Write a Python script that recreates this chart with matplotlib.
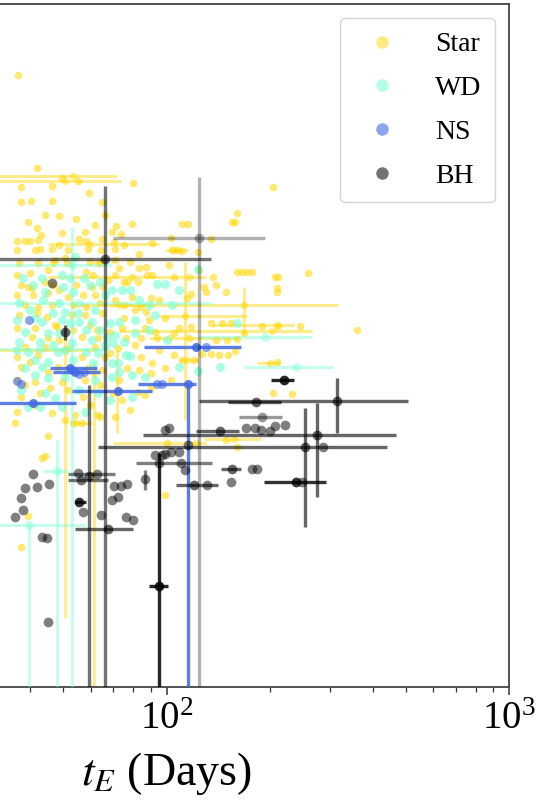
import numpy as np
import matplotlib
matplotlib.use("Agg")
import matplotlib.pyplot as plt
from matplotlib.lines import Line2D
from matplotlib.ticker import NullFormatter

plt.rcParams['font.family'] = ['Liberation Serif', 'DejaVu Serif']
plt.rcParams['mathtext.fontset'] = 'stix'

# ---------------- Stars ----------------
star_tE = [36.9, 41.8, 49.4, 55.0, 37.7, 46.2, 79.6, 37.5, 40.1, 46.2, 59.2, 64.6, 204.0,
           48.4, 54.6, 79.1, 111.3, 115.2, 155.8, 158.9, 161.1, 41.8, 43.0, 49.4, 57.7, 69.1,
           71.0, 73.4, 36.7, 38.5, 39.9, 42.1, 55.4, 58.1, 64.6, 70.1, 103.4, 135.3, 36.7,
           41.2, 42.7, 46.2, 51.4, 58.8, 64.2, 70.5, 82.9, 104.1, 107.7, 111.3, 124.0, 91.0,
           42.1, 47.1, 50.4, 59.6, 62.9, 70.5, 102.0, 36.7, 39.9, 45.1, 58.4, 60.9, 70.5,
           79.1, 88.0, 91.0, 105.5, 137.1, 161.1, 166.6, 172.3, 178.2, 206.8, 211.0, 259.1,
           39.3, 76.9, 82.3, 129.0, 139.9, 209.6, 209.6, 90.4, 114.4, 118.3, 130.8, 148.7,
           37.7, 40.4, 46.5, 54.6, 65.1, 75.4, 36.7, 40.7, 45.1, 51.4, 56.9, 61.7, 79.1,
           38.5, 42.1, 46.2, 53.2, 58.4, 75.4, 84.5, 37.2, 41.8, 44.8, 52.8, 57.7, 64.6,
           87.4, 98.7, 135.3, 145.7, 154.7, 190.6, 211.0, 245.6, 36.7, 41.2, 47.8, 53.2,
           62.5, 73.9, 86.3, 92.3, 105.5, 118.3, 109.1, 168.9, 40.4, 45.1, 56.5, 62.9, 76.4,
           84.5, 93.5, 116.7, 139.9, 149.7, 161.1, 360.1, 38.5, 44.2, 51.4, 61.7, 72.0,
           127.3, 135.3, 142.8, 150.7, 158.9, 36.7, 42.1, 56.5, 66.0, 84.5, 111.3, 120.7,
           91.0, 209.6, 37.7, 45.1, 64.6, 76.9, 90.4, 103.4, 36.7, 41.2, 49.4, 57.7, 204.0,
           232.2, 37.7, 42.7, 51.4, 56.9, 69.6, 73.9, 82.3, 90.4, 36.7, 46.2, 53.9, 62.9,
           70.5, 36.0, 45.1, 43.3, 44.2, 39.3, 56.5, 63.8, 148.7, 161.1, 100.0, 98.7, 37.7,
           87.4, 124.8, 37.2, 46.5, 51.1, 63.8, 53.2,
           39.3, 44.2, 61.7, 66.0, 75.4, 48.7, 78.0, 72.9, 83.4, 67.3, 60.5, 44.2, 48.7,
           70.5, 63.8, 80.7, 95.4, 89.2, 75.4, 47.1, 59.6, 68.2, 48.7, 80.7, 95.4, 105.5,
           68.2, 39.9, 48.1, 58.8, 83.4, 98.7, 38.5, 45.6, 63.8, 72.9, 86.3, 41.2, 59.6,
           78.0, 50.4]
star_y = [6.12, 5.19, 5.09, 5.06, 5.00, 5.01, 5.04, 4.85, 4.86, 4.86, 4.94, 4.85, 5.00,
          4.71, 4.68, 4.63, 4.63, 4.63, 4.65, 4.65, 4.74, 4.59, 4.52, 4.54, 4.55, 4.55,
          4.61, 4.53, 4.46, 4.46, 4.46, 4.47, 4.48, 4.46, 4.48, 4.45, 4.49, 4.48, 4.37,
          4.37, 4.38, 4.38, 4.37, 4.38, 4.37, 4.38, 4.33, 4.37, 4.37, 4.36, 4.35, 4.44,
          4.24, 4.27, 4.29, 4.25, 4.24, 4.27, 4.22, 4.12, 4.14, 4.17, 4.15, 4.12, 4.12,
          4.10, 4.12, 4.12, 4.10, 4.10, 4.15, 4.15, 4.15, 4.15, 4.10, 4.10, 4.14,
          4.00, 4.05, 4.05, 4.00, 4.02, 3.99, 3.95, 3.89, 3.89, 3.93, 3.95, 3.95,
          4.02, 3.99, 4.02, 4.02, 4.00, 4.05, 3.92, 3.92, 3.94, 3.90, 3.92, 3.92, 3.90,
          3.82, 3.80, 3.82, 3.82, 3.80, 3.82, 3.80, 3.72, 3.74, 3.70, 3.72, 3.72, 3.74,
          3.75, 3.69, 3.64, 3.64, 3.64, 3.61, 3.61, 3.61, 3.59, 3.59, 3.60, 3.57,
          3.57, 3.59, 3.59, 3.55, 3.54, 3.60, 3.59, 3.54, 3.50, 3.49, 3.50, 3.49, 3.49,
          3.49, 3.49, 3.49, 3.47, 3.47, 3.48, 3.57, 3.40, 3.40, 3.39, 3.40, 3.39,
          3.33, 3.33, 3.32, 3.32, 3.36, 3.30, 3.32, 3.30, 3.30, 3.30, 3.27, 3.27,
          3.24, 3.25, 3.20, 3.15, 3.17, 3.19, 3.14, 3.07, 3.07, 3.05, 3.05, 3.07, 2.94,
          2.93, 2.90, 2.94, 2.97, 2.90, 2.94, 2.87, 2.95, 2.99, 2.75, 2.74, 2.72, 2.72,
          2.70, 2.64, 2.51, 2.29, 2.31, 1.71, 2.64, 2.70, 2.47, 2.40, 2.44, 1.92, 1.40,
          4.20, 4.17, 4.24, 4.24, 4.24, 4.24, 2.64,
          4.65, 4.72, 4.62, 4.72, 4.42, 4.42, 4.25, 4.19, 4.19, 4.07, 4.00, 4.05, 3.97,
          3.87, 3.84, 3.77, 3.87, 3.67, 3.69, 3.62, 3.62, 3.55, 3.47, 3.42, 3.37, 3.32,
          3.34, 3.25, 3.20, 3.19, 3.17, 3.19, 3.02, 2.99, 3.02, 3.07, 2.92, 2.82, 2.82,
          2.77, 2.67]

# stars with measured uncertainties: value, lower / upper bounds
star_e_tE = [53.5, 50.4, 168.9, 112.9, 50.4, 61.3, 71.5, 122.3, 157.9, 209.6, 202.6,
             199.9, 54.6, 116.7, 105.5, 59.6, 102.0, 114.4, 72.9]
star_e_y = [5.11, 5.06, 3.82, 3.71, 3.37, 3.14, 2.95, 2.44, 2.48, 3.62, 3.56,
            3.24, 2.64, 4.10, 4.37, 4.43, 3.49, 3.27, 3.82]
star_e_tE_lo = [20.0, 20.0, 68.2, 95.4, 20.0, 61.3, 71.5, 69.6, 129.0, 136.2, 72.9,
                184.3, 52.1, 45.1, 98.7, 45.1, 89.2, 109.1, 52.8]
star_e_tE_hi = [71.5, 73.4, 317.2, 172.3, 61.7, 61.3, 71.5, 130.8, 189.3, 235.0, 266.3,
                213.9, 60.5, 130.8, 115.2, 95.4, 163.3, 123.2, 92.3]
star_e_y_lo = [5.11, 5.06, 3.52, 2.67, 0.69, -1.0, 2.54, 2.44, 2.48, 3.62, 3.56,
               3.24, 2.64, 4.10, 4.37, 4.43, 3.49, 3.27, 3.82]
star_e_y_hi = [5.11, 5.06, 4.00, 4.25, 3.50, 3.24, 3.37, 2.44, 2.48, 3.62, 3.56,
               3.24, 2.64, 4.10, 4.37, 4.43, 3.49, 3.27, 3.82]

# ---------------- White dwarfs ----------------
wd_tE = [53.9, 38.0, 43.3, 49.4, 52.1, 57.3, 124.0, 93.5, 98.7, 109.1, 104.1, 89.2,
         100.0, 109.1, 143.7, 124.0, 161.1, 44.2, 49.7, 53.2, 59.6, 69.1, 73.9, 37.2,
         43.6, 48.7, 66.0, 39.9, 46.5, 50.4, 55.0, 61.7, 36.7, 43.3, 49.4, 52.1, 55.7,
         60.5, 68.2, 72.9, 38.5, 45.1, 58.4, 66.9, 70.5, 80.7, 80.7, 37.2, 42.7, 46.5,
         52.8, 60.5, 69.6, 39.3, 48.1, 58.4, 62.9, 76.4, 78.0, 41.2, 45.1, 53.2, 69.1,
         72.0, 43.3, 38.5, 60.9, 45.1, 50.4, 69.1, 79.1, 86.3, 37.7, 44.2, 62.9, 79.1,
         39.3, 49.4, 57.7, 42.7,
         40.7, 63.8, 78.0, 83.4, 41.2, 63.8, 48.7, 75.4, 36.7, 50.4, 66.0, 72.9, 61.7,
         41.2, 55.7, 68.2, 47.1, 89.2, 92.3]
wd_y = [4.30, 4.09, 4.09, 4.12, 4.09, 4.09, 4.18, 4.03, 4.03, 3.97, 3.82, 3.82,
        3.47, 3.20, 3.20, 3.16, 3.64, 3.95, 4.00, 3.95, 4.02, 3.97, 3.97, 3.84,
        3.87, 3.84, 3.92, 3.77, 3.74, 3.75, 3.74, 3.77, 3.67, 3.65, 3.67, 3.64, 3.65,
        3.65, 3.64, 3.65, 3.55, 3.54, 3.57, 3.50, 3.52, 3.67, 3.54, 3.45, 3.45, 3.42,
        3.44, 3.47, 3.44, 3.35, 3.35, 3.35, 3.34, 3.32, 3.31, 3.27, 3.25, 3.27, 3.24,
        3.24, 3.20, 3.19, 3.24, 3.09, 3.10, 3.10, 3.12, 3.10, 2.97, 2.94, 2.94, 2.90,
        2.80, 2.80, 2.75, 2.80,
        4.02, 4.05, 3.97, 3.87, 3.69, 3.57, 3.54, 3.45, 3.37, 3.37, 3.42, 3.15, 3.07,
        3.12, 2.97, 2.87, 2.89, 3.57, 3.72]

wd_e_tE = [52.8, 47.8, 39.6, 194.5, 238.2, 55.7, 42.7]
wd_e_y = [4.22, 2.16, 1.62, 3.50, 3.20, 3.84, 3.38]
wd_e_tE_lo = [20.0, 43.6, 20.0, 124.8, 168.9, 20.0, 20.0]
wd_e_tE_hi = [69.1, 51.4, 58.4, 266.3, 306.9, 136.2, 68.2]
wd_e_y_lo = [-1.0, -1.0, -1.0, 3.50, 3.20, 3.84, 3.38]
wd_e_y_hi = [4.60, 2.47, 1.62, 3.50, 3.20, 3.84, 3.38]

# ---------------- Neutron stars ----------------
ns_tE = [130.8, 52.8, 55.7, 57.3, 93.5, 97.3, 36.5, 37.7, 39.6]
ns_y = [3.40, 3.17, 3.13, 3.15, 3.03, 3.03, 3.06, 3.03, 3.67]

ns_e_tE = [122.3, 52.1, 53.9, 115.2, 72.0, 40.7]
ns_e_y = [3.40, 3.19, 3.15, 3.03, 2.96, 2.84]
ns_e_tE_lo = [85.7, 45.6, 46.5, 82.3, 52.8, 20.0]
ns_e_tE_hi = [165.5, 62.5, 63.8, 122.3, 91.0, 54.6]
ns_e_y_lo = [3.40, 3.19, 3.15, -1.0, 2.96, 2.84]
ns_e_y_hi = [3.40, 3.19, 3.15, 3.03, 2.96, 2.84]

# ---------------- Black holes ----------------
bh_tE = [46.2, 40.7, 38.5, 41.8, 45.4, 37.5, 38.2, 36.0, 43.3, 44.8, 45.1, 55.0,
         70.1, 73.4, 76.9, 69.1, 72.4, 56.9, 64.2, 76.4, 79.6, 92.3, 96.7, 99.3,
         103.4, 109.1, 110.6, 112.9, 171.2, 181.8, 189.3, 199.9, 206.8, 221.2, 178.2,
         184.3, 154.7, 248.9, 286.8, 115.2, 99.3, 102.0, 131.6]
bh_y = [4.04, 2.13, 1.99, 2.00, 2.03, 1.89, 1.77, 1.70, 1.50, 1.49, 0.65, 2.14,
        2.01, 2.01, 2.03, 1.87, 1.90, 1.75, 1.72, 1.70, 1.67, 2.32, 2.32, 2.33,
        2.35, 2.35, 2.24, 2.17, 2.59, 2.59, 2.57, 2.56, 2.61, 2.62, 2.18,
        2.18, 2.05, 2.05, 2.40, 2.42, 2.57, 2.59, 2.02]

bh_e_tE = [124.8, 66.0, 219.7, 315.1, 183.0, 190.6, 143.7, 275.6, 254.0, 95.4,
           59.2, 56.1, 62.5, 55.7, 67.3, 86.3, 95.4, 155.8, 120.7, 238.2, 50.4]
bh_e_y = [4.49, 4.28, 3.07, 2.86, 2.85, 2.70, 2.56, 2.52, 2.40, 1.01,
          2.11, 2.07, 2.13, 1.85, 1.58, 2.08, 2.24, 2.18, 2.02, 2.05, 3.55]
bh_e_tE_lo = [69.6, 20.0, 201.3, 124.8, 150.7, 163.3, 122.3, 85.1, 62.9, 89.2,
              59.2, 51.4, 51.4, 53.9, 53.9, 86.3, 81.2, 144.7, 106.9, 193.2, 50.4]
bh_e_tE_hi = [194.5, 135.3, 235.0, 506.7, 215.3, 216.8, 163.3, 466.6, 441.5, 100.7,
              59.2, 67.3, 70.5, 58.4, 79.6, 86.3, 136.2, 165.5, 141.0, 292.6, 50.4]
bh_e_y_lo = [-1.0, -1.0, 3.07, 2.54, 2.85, 2.70, 2.56, 1.90, 1.60, -1.0,
             -1.0, 2.07, 2.13, 1.85, 1.58, 1.97, 2.24, 2.18, 2.02, 2.05, 3.47]
bh_e_y_hi = [5.10, 5.01, 3.07, 3.09, 2.85, 2.70, 2.56, 2.84, 2.79, 2.34,
             3.02, 2.07, 2.13, 1.85, 1.58, 2.17, 2.24, 2.18, 2.02, 2.05, 3.62]
bh_e_alpha = [0.3, 0.55, 0.85, 0.6, 0.6, 0.4, 0.6, 0.6, 0.6, 0.85,
              0.55, 0.55, 0.5, 0.8, 0.6, 0.5, 0.5, 0.6, 0.6, 0.8, 0.6]

labels = ['Star', 'WD', 'NS', 'BH']
colors = {'Star': 'gold', 'WD': 'aquamarine', 'NS': 'royalblue', 'BH': 'black'}
major_ticks = [100, 1000]


def bounds_to_err(val, lo, hi):
    val, lo, hi = np.asarray(val), np.asarray(lo), np.asarray(hi)
    return np.vstack([val - lo, hi - val])


fig = plt.figure(figsize=(5.38, 8.08), dpi=100)
ax = fig.add_axes([-176 / 538, 121 / 808, 685 / 538, 683 / 808])

# Stars
ax.errorbar(star_e_tE, star_e_y,
            xerr=bounds_to_err(star_e_tE, star_e_tE_lo, star_e_tE_hi),
            yerr=bounds_to_err(star_e_y, star_e_y_lo, star_e_y_hi),
            fmt='o', color=colors['Star'], alpha=0.45, ms=5.5, mew=0, elinewidth=2.2,
            capsize=0, zorder=2)
ax.plot(star_tE, star_y, 'o', color=colors['Star'], alpha=0.55, ms=5.5, mew=0, zorder=2)

# White dwarfs
ax.errorbar(wd_e_tE, wd_e_y,
            xerr=bounds_to_err(wd_e_tE, wd_e_tE_lo, wd_e_tE_hi),
            yerr=bounds_to_err(wd_e_y, wd_e_y_lo, wd_e_y_hi),
            fmt='o', color=colors['WD'], alpha=0.45, ms=6.5, mew=0, elinewidth=2.2,
            capsize=0, zorder=3)
ax.plot(wd_tE, wd_y, 'o', color=colors['WD'], alpha=0.65, ms=6.5, mew=0, zorder=3)

# Neutron stars
ax.errorbar(ns_e_tE, ns_e_y,
            xerr=bounds_to_err(ns_e_tE, ns_e_tE_lo, ns_e_tE_hi),
            yerr=bounds_to_err(ns_e_y, ns_e_y_lo, ns_e_y_hi),
            fmt='o', color=colors['NS'], alpha=0.85, ms=6.5, mew=0, elinewidth=2.4,
            capsize=0, zorder=4)
ax.plot(ns_tE, ns_y, 'o', color=colors['NS'], alpha=0.6, ms=6.5, mew=0, zorder=4)

# Black holes
for i in range(len(bh_e_tE)):
    ax.errorbar([bh_e_tE[i]], [bh_e_y[i]],
                xerr=bounds_to_err([bh_e_tE[i]], [bh_e_tE_lo[i]], [bh_e_tE_hi[i]]),
                yerr=bounds_to_err([bh_e_y[i]], [bh_e_y_lo[i]], [bh_e_y_hi[i]]),
                fmt='o', color=colors['BH'], alpha=bh_e_alpha[i], ms=7, mew=0,
                elinewidth=2.4, capsize=0, zorder=5)
ax.plot(bh_tE, bh_y, 'o', color=colors['BH'], alpha=0.5, ms=7, mew=0, zorder=5)

ax.set_xscale('log')
ax.set_xlim(10, 1000)
ax.set_ylim(0, 6.83)
ax.set_yticks([])
ax.set_xticks(major_ticks)
ax.xaxis.set_minor_formatter(NullFormatter())
ax.set_xlabel(r'$t_E$ (Days)', fontsize=33, labelpad=9)
ax.tick_params(axis='x', which='major', labelsize=28, length=6, width=1.1,
               direction='out', colors='#333333', labelcolor='black', pad=4)
ax.tick_params(axis='x', which='minor', length=3.5, width=0.9, direction='out',
               colors='#333333')
for sp in ax.spines.values():
    sp.set_color('#444444')
    sp.set_linewidth(1.3)

handles = [Line2D([], [], ls='none', marker='o', ms=9, mew=0,
                  color=colors[k], alpha=a)
           for k, a in zip(labels, [0.5, 0.6, 0.6, 0.55])]
ax.legend(handles, labels, loc='upper right', fontsize=20, handletextpad=0.9,
          labelspacing=0.66, borderpad=0.5, framealpha=0.9, edgecolor='#d0d0d0')

fig.savefig('out.png', dpi=100)
